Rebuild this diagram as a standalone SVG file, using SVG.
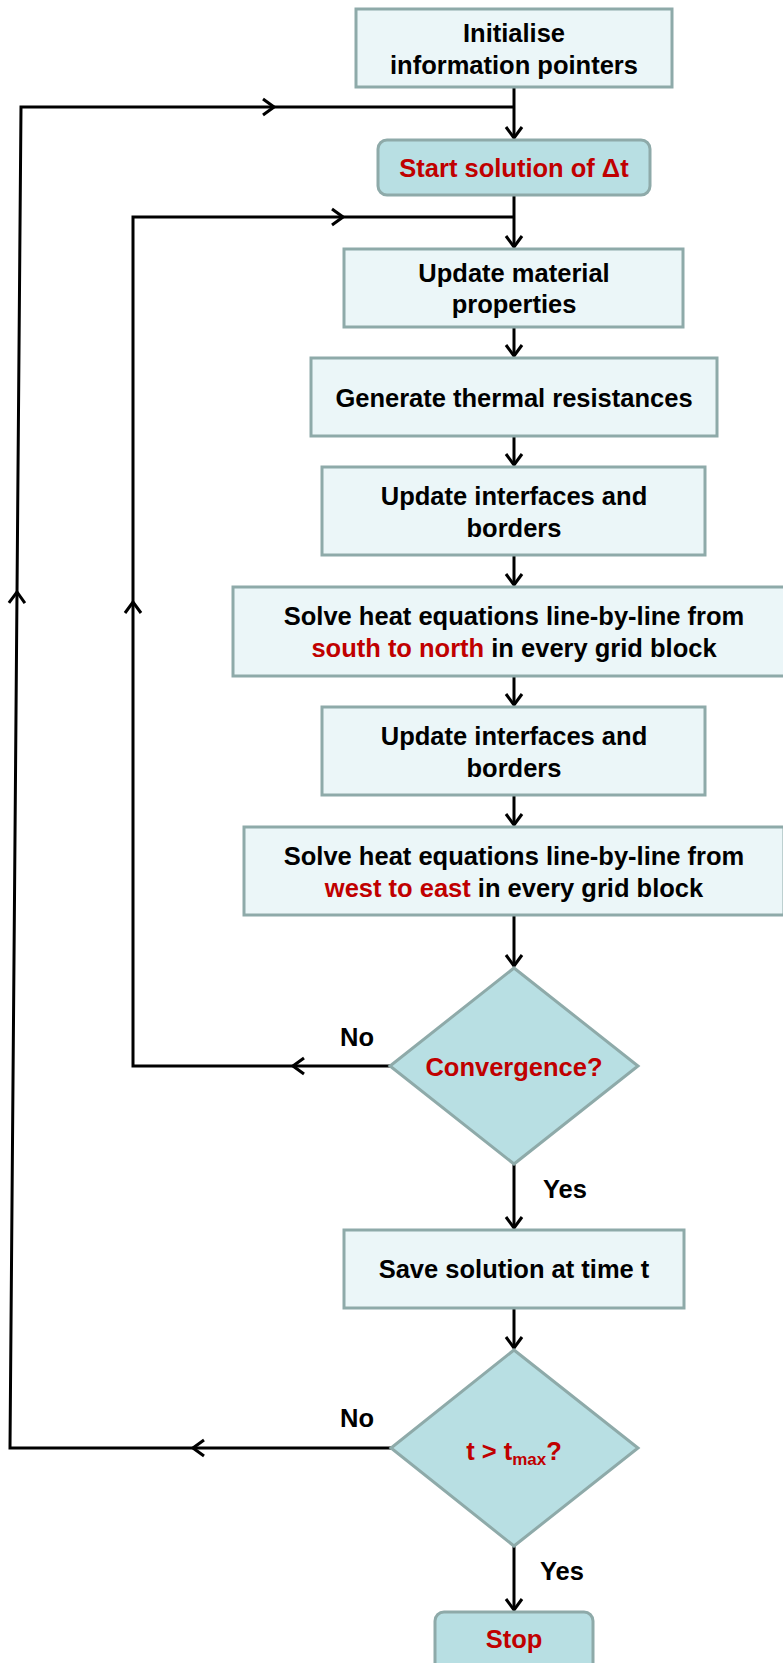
<svg xmlns="http://www.w3.org/2000/svg" width="783" height="1663" viewBox="0 0 783 1663">
<defs>
<style>
.box{fill:#ebf6f8;stroke:#8eaaa9;stroke-width:3}
.dark{fill:#b8dfe3;stroke:#8eaaa9;stroke-width:3}
.t{font-family:"Liberation Sans",Arial,sans-serif;font-weight:bold;font-size:25.5px;fill:#000;text-anchor:middle}
.lbl{font-family:"Liberation Sans",Arial,sans-serif;font-weight:bold;font-size:25.5px;fill:#000}
.red{fill:#c00000}
.ln{fill:none;stroke:#000;stroke-width:3;stroke-linejoin:miter}
</style>
<marker id="chev" viewBox="-14 -11 16 22" refX="0" refY="0" markerWidth="16" markerHeight="22" markerUnits="userSpaceOnUse" orient="auto">
<path d="M -11 -8 L 0 0 L -11 8" fill="none" stroke="#000" stroke-width="3"/>
</marker>
</defs>
<rect width="783" height="1663" fill="#fff"/>

<g id="connectors">
<!-- main flow -->
<path class="ln" d="M514 87 V138" marker-end="url(#chev)"/>
<path class="ln" d="M514 195 V247" marker-end="url(#chev)"/>
<path class="ln" d="M514 327 V356" marker-end="url(#chev)"/>
<path class="ln" d="M514 436 V465" marker-end="url(#chev)"/>
<path class="ln" d="M514 555 V585" marker-end="url(#chev)"/>
<path class="ln" d="M514 676 V705" marker-end="url(#chev)"/>
<path class="ln" d="M514 795 V825" marker-end="url(#chev)"/>
<path class="ln" d="M514 915 V966" marker-end="url(#chev)"/>
<path class="ln" d="M514 1164 V1228" marker-end="url(#chev)"/>
<path class="ln" d="M514 1308 V1348" marker-end="url(#chev)"/>
<path class="ln" d="M514 1546 V1610" marker-end="url(#chev)"/>
<!-- inner loop (Convergence No) -->
<path class="ln" d="M390 1066 H293" marker-end="url(#chev)"/>
<path class="ln" d="M295 1066 H133 V602" marker-end="url(#chev)"/>
<path class="ln" d="M133 604 V217 H343" marker-end="url(#chev)"/>
<path class="ln" d="M341 217 H514"/>
<!-- outer loop (t > tmax No) -->
<path class="ln" d="M391 1448 H193" marker-end="url(#chev)"/>
<path class="ln" d="M195 1448 H10 L17 592" marker-end="url(#chev)"/>
<path class="ln" d="M17 594 L21 107 H274" marker-end="url(#chev)"/>
<path class="ln" d="M272 107 H514"/>
</g>

<g id="n-init">
<rect class="box" x="356" y="9" width="316" height="78"/>
<text class="t" x="514" y="42">Initialise</text>
<text class="t" x="514" y="74">information pointers</text>
</g>

<g id="n-start">
<rect class="dark" x="378" y="140" width="272" height="55" rx="9"/>
<text class="t red" x="514" y="177">Start solution of Δt</text>
</g>

<g id="n-material">
<rect class="box" x="344" y="249" width="339" height="78"/>
<text class="t" x="514" y="282">Update material</text>
<text class="t" x="514" y="313">properties</text>
</g>

<g id="n-resist">
<rect class="box" x="311" y="358" width="406" height="78"/>
<text class="t" x="514" y="407">Generate thermal resistances</text>
</g>

<g id="n-iface1">
<rect class="box" x="322" y="467" width="383" height="88"/>
<text class="t" x="514" y="505">Update interfaces and</text>
<text class="t" x="514" y="537">borders</text>
</g>

<g id="n-solve-sn">
<rect class="box" x="233" y="587" width="562" height="89"/>
<text class="t" x="514" y="625">Solve heat equations line-by-line from</text>
<text class="t" x="514" y="657"><tspan class="red">south to north</tspan> in every grid block</text>
</g>

<g id="n-iface2">
<rect class="box" x="322" y="707" width="383" height="88"/>
<text class="t" x="514" y="745">Update interfaces and</text>
<text class="t" x="514" y="777">borders</text>
</g>

<g id="n-solve-we">
<rect class="box" x="244" y="827" width="540" height="88"/>
<text class="t" x="514" y="865">Solve heat equations line-by-line from</text>
<text class="t" x="514" y="897"><tspan class="red">west to east</tspan> in every grid block</text>
</g>

<g id="n-conv">
<polygon class="dark" points="514,968 638,1066 514,1164 390,1066"/>
<text class="t red" x="514" y="1076">Convergence?</text>
<text class="lbl" x="340" y="1046">No</text>
<text class="lbl" x="543" y="1198">Yes</text>
</g>

<g id="n-save">
<rect class="box" x="344" y="1230" width="340" height="78"/>
<text class="t" x="514" y="1278">Save solution at time t</text>
</g>

<g id="n-tmax">
<polygon class="dark" points="514,1350 638,1448 514,1546 391,1448"/>
<text class="t red" x="514" y="1460">t &gt; t<tspan font-size="17" dy="5">max</tspan><tspan dy="-5">?</tspan></text>
<text class="lbl" x="340" y="1427">No</text>
<text class="lbl" x="540" y="1580">Yes</text>
</g>

<g id="n-stop">
<rect class="dark" x="435" y="1612" width="158" height="66" rx="9"/>
<text class="t red" x="514" y="1648">Stop</text>
</g>
</svg>
